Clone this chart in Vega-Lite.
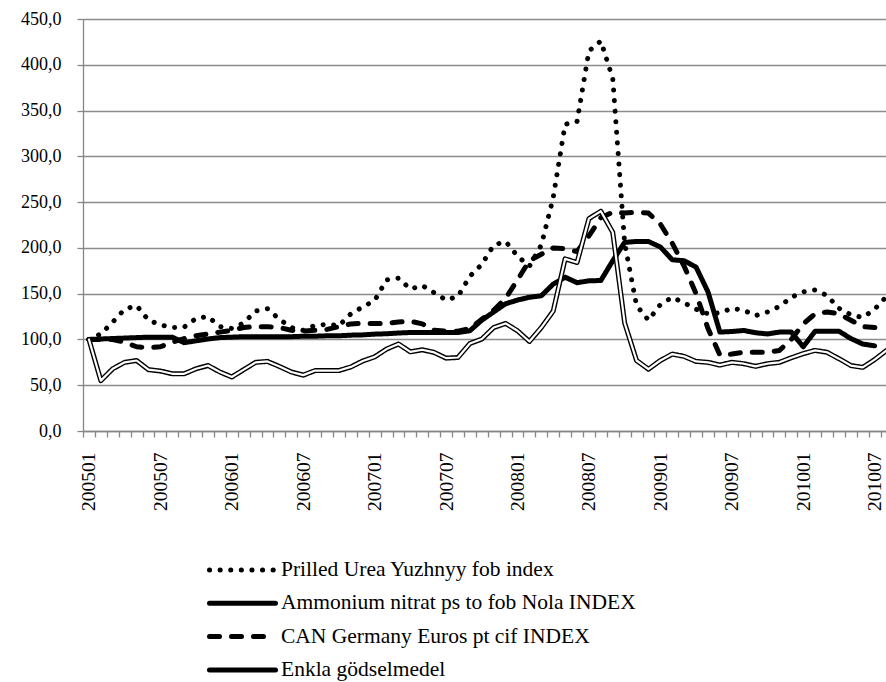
{
  "$schema": "https://vega.github.io/schema/vega-lite/v6.json",
  "autosize": "none",
  "width": 803,
  "height": 412,
  "padding": {"left": 83, "top": 19, "right": 0, "bottom": 251},
  "background": "white",
  "config": {"view": {"stroke": null}, "font": "Liberation Serif, Liberation Sans, sans-serif"},
  "data": {"values": [
    {"month": "200501", "Prilled Urea Yuzhnyy fob index": 100, "Ammonium nitrat ps to fob Nola INDEX": 100, "CAN Germany Euros pt cif INDEX": 100, "Enkla gödselmedel": 100},
    {"month": "200502", "Prilled Urea Yuzhnyy fob index": 106, "Ammonium nitrat ps to fob Nola INDEX": 100.5, "CAN Germany Euros pt cif INDEX": 100, "Enkla gödselmedel": 55},
    {"month": "200503", "Prilled Urea Yuzhnyy fob index": 119, "Ammonium nitrat ps to fob Nola INDEX": 101, "CAN Germany Euros pt cif INDEX": 100, "Enkla gödselmedel": 68},
    {"month": "200504", "Prilled Urea Yuzhnyy fob index": 133, "Ammonium nitrat ps to fob Nola INDEX": 101.5, "CAN Germany Euros pt cif INDEX": 97, "Enkla gödselmedel": 75},
    {"month": "200505", "Prilled Urea Yuzhnyy fob index": 137, "Ammonium nitrat ps to fob Nola INDEX": 102, "CAN Germany Euros pt cif INDEX": 92, "Enkla gödselmedel": 77},
    {"month": "200506", "Prilled Urea Yuzhnyy fob index": 121, "Ammonium nitrat ps to fob Nola INDEX": 102.5, "CAN Germany Euros pt cif INDEX": 91, "Enkla gödselmedel": 67},
    {"month": "200507", "Prilled Urea Yuzhnyy fob index": 116, "Ammonium nitrat ps to fob Nola INDEX": 102.5, "CAN Germany Euros pt cif INDEX": 92, "Enkla gödselmedel": 65.5},
    {"month": "200508", "Prilled Urea Yuzhnyy fob index": 113, "Ammonium nitrat ps to fob Nola INDEX": 102.5, "CAN Germany Euros pt cif INDEX": 97, "Enkla gödselmedel": 62.5},
    {"month": "200509", "Prilled Urea Yuzhnyy fob index": 113.5, "Ammonium nitrat ps to fob Nola INDEX": 96.5, "CAN Germany Euros pt cif INDEX": 101, "Enkla gödselmedel": 62.5},
    {"month": "200510", "Prilled Urea Yuzhnyy fob index": 123, "Ammonium nitrat ps to fob Nola INDEX": 98.5, "CAN Germany Euros pt cif INDEX": 104, "Enkla gödselmedel": 68},
    {"month": "200511", "Prilled Urea Yuzhnyy fob index": 125, "Ammonium nitrat ps to fob Nola INDEX": 100.5, "CAN Germany Euros pt cif INDEX": 106, "Enkla gödselmedel": 71.5},
    {"month": "200512", "Prilled Urea Yuzhnyy fob index": 114, "Ammonium nitrat ps to fob Nola INDEX": 102, "CAN Germany Euros pt cif INDEX": 108, "Enkla gödselmedel": 64.5},
    {"month": "200601", "Prilled Urea Yuzhnyy fob index": 112, "Ammonium nitrat ps to fob Nola INDEX": 102.5, "CAN Germany Euros pt cif INDEX": 110, "Enkla gödselmedel": 59},
    {"month": "200602", "Prilled Urea Yuzhnyy fob index": 118, "Ammonium nitrat ps to fob Nola INDEX": 103, "CAN Germany Euros pt cif INDEX": 113, "Enkla gödselmedel": 67},
    {"month": "200603", "Prilled Urea Yuzhnyy fob index": 131, "Ammonium nitrat ps to fob Nola INDEX": 103, "CAN Germany Euros pt cif INDEX": 114, "Enkla gödselmedel": 75},
    {"month": "200604", "Prilled Urea Yuzhnyy fob index": 133.5, "Ammonium nitrat ps to fob Nola INDEX": 103, "CAN Germany Euros pt cif INDEX": 114, "Enkla gödselmedel": 76},
    {"month": "200605", "Prilled Urea Yuzhnyy fob index": 122, "Ammonium nitrat ps to fob Nola INDEX": 103, "CAN Germany Euros pt cif INDEX": 113, "Enkla gödselmedel": 70.5},
    {"month": "200606", "Prilled Urea Yuzhnyy fob index": 113, "Ammonium nitrat ps to fob Nola INDEX": 103, "CAN Germany Euros pt cif INDEX": 110, "Enkla gödselmedel": 64.5},
    {"month": "200607", "Prilled Urea Yuzhnyy fob index": 110, "Ammonium nitrat ps to fob Nola INDEX": 103.5, "CAN Germany Euros pt cif INDEX": 109, "Enkla gödselmedel": 61},
    {"month": "200608", "Prilled Urea Yuzhnyy fob index": 115.5, "Ammonium nitrat ps to fob Nola INDEX": 103.5, "CAN Germany Euros pt cif INDEX": 110, "Enkla gödselmedel": 66},
    {"month": "200609", "Prilled Urea Yuzhnyy fob index": 116.5, "Ammonium nitrat ps to fob Nola INDEX": 104, "CAN Germany Euros pt cif INDEX": 111, "Enkla gödselmedel": 66},
    {"month": "200610", "Prilled Urea Yuzhnyy fob index": 115, "Ammonium nitrat ps to fob Nola INDEX": 104, "CAN Germany Euros pt cif INDEX": 114, "Enkla gödselmedel": 66},
    {"month": "200611", "Prilled Urea Yuzhnyy fob index": 128, "Ammonium nitrat ps to fob Nola INDEX": 104.7, "CAN Germany Euros pt cif INDEX": 117, "Enkla gödselmedel": 70},
    {"month": "200612", "Prilled Urea Yuzhnyy fob index": 135.5, "Ammonium nitrat ps to fob Nola INDEX": 105, "CAN Germany Euros pt cif INDEX": 117.5, "Enkla gödselmedel": 76.5},
    {"month": "200701", "Prilled Urea Yuzhnyy fob index": 142.5, "Ammonium nitrat ps to fob Nola INDEX": 105.8, "CAN Germany Euros pt cif INDEX": 117.5, "Enkla gödselmedel": 81},
    {"month": "200702", "Prilled Urea Yuzhnyy fob index": 165, "Ammonium nitrat ps to fob Nola INDEX": 106.2, "CAN Germany Euros pt cif INDEX": 117.5, "Enkla gödselmedel": 89.5},
    {"month": "200703", "Prilled Urea Yuzhnyy fob index": 167, "Ammonium nitrat ps to fob Nola INDEX": 107, "CAN Germany Euros pt cif INDEX": 119, "Enkla gödselmedel": 95},
    {"month": "200704", "Prilled Urea Yuzhnyy fob index": 155, "Ammonium nitrat ps to fob Nola INDEX": 107.6, "CAN Germany Euros pt cif INDEX": 120, "Enkla gödselmedel": 86.5},
    {"month": "200705", "Prilled Urea Yuzhnyy fob index": 159, "Ammonium nitrat ps to fob Nola INDEX": 107.6, "CAN Germany Euros pt cif INDEX": 117, "Enkla gödselmedel": 88.7},
    {"month": "200706", "Prilled Urea Yuzhnyy fob index": 151, "Ammonium nitrat ps to fob Nola INDEX": 107.6, "CAN Germany Euros pt cif INDEX": 110, "Enkla gödselmedel": 85.8},
    {"month": "200707", "Prilled Urea Yuzhnyy fob index": 143, "Ammonium nitrat ps to fob Nola INDEX": 107.6, "CAN Germany Euros pt cif INDEX": 109, "Enkla gödselmedel": 79.6},
    {"month": "200708", "Prilled Urea Yuzhnyy fob index": 147, "Ammonium nitrat ps to fob Nola INDEX": 107.6, "CAN Germany Euros pt cif INDEX": 109, "Enkla gödselmedel": 80.3},
    {"month": "200709", "Prilled Urea Yuzhnyy fob index": 169, "Ammonium nitrat ps to fob Nola INDEX": 109.5, "CAN Germany Euros pt cif INDEX": 112, "Enkla gödselmedel": 95.6},
    {"month": "200710", "Prilled Urea Yuzhnyy fob index": 182, "Ammonium nitrat ps to fob Nola INDEX": 121, "CAN Germany Euros pt cif INDEX": 122, "Enkla gödselmedel": 100.4},
    {"month": "200711", "Prilled Urea Yuzhnyy fob index": 203, "Ammonium nitrat ps to fob Nola INDEX": 130, "CAN Germany Euros pt cif INDEX": 132, "Enkla gödselmedel": 113},
    {"month": "200712", "Prilled Urea Yuzhnyy fob index": 207, "Ammonium nitrat ps to fob Nola INDEX": 139, "CAN Germany Euros pt cif INDEX": 145, "Enkla gödselmedel": 117.5},
    {"month": "200801", "Prilled Urea Yuzhnyy fob index": 191, "Ammonium nitrat ps to fob Nola INDEX": 143, "CAN Germany Euros pt cif INDEX": 165, "Enkla gödselmedel": 109.5},
    {"month": "200802", "Prilled Urea Yuzhnyy fob index": 180, "Ammonium nitrat ps to fob Nola INDEX": 146, "CAN Germany Euros pt cif INDEX": 186, "Enkla gödselmedel": 97.8},
    {"month": "200803", "Prilled Urea Yuzhnyy fob index": 203, "Ammonium nitrat ps to fob Nola INDEX": 147.7, "CAN Germany Euros pt cif INDEX": 193, "Enkla gödselmedel": 113},
    {"month": "200804", "Prilled Urea Yuzhnyy fob index": 255, "Ammonium nitrat ps to fob Nola INDEX": 160.5, "CAN Germany Euros pt cif INDEX": 200, "Enkla gödselmedel": 131},
    {"month": "200805", "Prilled Urea Yuzhnyy fob index": 335, "Ammonium nitrat ps to fob Nola INDEX": 168, "CAN Germany Euros pt cif INDEX": 199, "Enkla gödselmedel": 188},
    {"month": "200806", "Prilled Urea Yuzhnyy fob index": 338, "Ammonium nitrat ps to fob Nola INDEX": 162, "CAN Germany Euros pt cif INDEX": 196, "Enkla gödselmedel": 184},
    {"month": "200807", "Prilled Urea Yuzhnyy fob index": 415, "Ammonium nitrat ps to fob Nola INDEX": 164, "CAN Germany Euros pt cif INDEX": 213, "Enkla gödselmedel": 232},
    {"month": "200808", "Prilled Urea Yuzhnyy fob index": 426, "Ammonium nitrat ps to fob Nola INDEX": 164.4, "CAN Germany Euros pt cif INDEX": 233, "Enkla gödselmedel": 240},
    {"month": "200809", "Prilled Urea Yuzhnyy fob index": 385, "Ammonium nitrat ps to fob Nola INDEX": 186, "CAN Germany Euros pt cif INDEX": 239, "Enkla gödselmedel": 217},
    {"month": "200810", "Prilled Urea Yuzhnyy fob index": 205, "Ammonium nitrat ps to fob Nola INDEX": 206, "CAN Germany Euros pt cif INDEX": 238, "Enkla gödselmedel": 118},
    {"month": "200811", "Prilled Urea Yuzhnyy fob index": 137, "Ammonium nitrat ps to fob Nola INDEX": 207, "CAN Germany Euros pt cif INDEX": 239, "Enkla gödselmedel": 77},
    {"month": "200812", "Prilled Urea Yuzhnyy fob index": 121, "Ammonium nitrat ps to fob Nola INDEX": 207, "CAN Germany Euros pt cif INDEX": 238, "Enkla gödselmedel": 67.5},
    {"month": "200901", "Prilled Urea Yuzhnyy fob index": 138, "Ammonium nitrat ps to fob Nola INDEX": 201, "CAN Germany Euros pt cif INDEX": 226, "Enkla gödselmedel": 77},
    {"month": "200902", "Prilled Urea Yuzhnyy fob index": 146, "Ammonium nitrat ps to fob Nola INDEX": 187, "CAN Germany Euros pt cif INDEX": 205, "Enkla gödselmedel": 84},
    {"month": "200903", "Prilled Urea Yuzhnyy fob index": 140, "Ammonium nitrat ps to fob Nola INDEX": 186, "CAN Germany Euros pt cif INDEX": 180, "Enkla gödselmedel": 81.5},
    {"month": "200904", "Prilled Urea Yuzhnyy fob index": 133, "Ammonium nitrat ps to fob Nola INDEX": 179, "CAN Germany Euros pt cif INDEX": 150, "Enkla gödselmedel": 76},
    {"month": "200905", "Prilled Urea Yuzhnyy fob index": 128, "Ammonium nitrat ps to fob Nola INDEX": 152, "CAN Germany Euros pt cif INDEX": 112, "Enkla gödselmedel": 75},
    {"month": "200906", "Prilled Urea Yuzhnyy fob index": 129, "Ammonium nitrat ps to fob Nola INDEX": 108, "CAN Germany Euros pt cif INDEX": 83, "Enkla gödselmedel": 72},
    {"month": "200907", "Prilled Urea Yuzhnyy fob index": 134, "Ammonium nitrat ps to fob Nola INDEX": 108.7, "CAN Germany Euros pt cif INDEX": 84, "Enkla gödselmedel": 75},
    {"month": "200908", "Prilled Urea Yuzhnyy fob index": 132, "Ammonium nitrat ps to fob Nola INDEX": 109.8, "CAN Germany Euros pt cif INDEX": 86, "Enkla gödselmedel": 73.5},
    {"month": "200909", "Prilled Urea Yuzhnyy fob index": 126, "Ammonium nitrat ps to fob Nola INDEX": 107.3, "CAN Germany Euros pt cif INDEX": 86, "Enkla gödselmedel": 70.6},
    {"month": "200910", "Prilled Urea Yuzhnyy fob index": 130, "Ammonium nitrat ps to fob Nola INDEX": 106, "CAN Germany Euros pt cif INDEX": 86, "Enkla gödselmedel": 73.5},
    {"month": "200911", "Prilled Urea Yuzhnyy fob index": 136, "Ammonium nitrat ps to fob Nola INDEX": 108, "CAN Germany Euros pt cif INDEX": 88, "Enkla gödselmedel": 75},
    {"month": "200912", "Prilled Urea Yuzhnyy fob index": 146, "Ammonium nitrat ps to fob Nola INDEX": 108, "CAN Germany Euros pt cif INDEX": 100, "Enkla gödselmedel": 80},
    {"month": "201001", "Prilled Urea Yuzhnyy fob index": 152, "Ammonium nitrat ps to fob Nola INDEX": 92, "CAN Germany Euros pt cif INDEX": 117, "Enkla gödselmedel": 84.5},
    {"month": "201002", "Prilled Urea Yuzhnyy fob index": 154, "Ammonium nitrat ps to fob Nola INDEX": 109, "CAN Germany Euros pt cif INDEX": 128, "Enkla gödselmedel": 88},
    {"month": "201003", "Prilled Urea Yuzhnyy fob index": 148, "Ammonium nitrat ps to fob Nola INDEX": 109, "CAN Germany Euros pt cif INDEX": 130, "Enkla gödselmedel": 86},
    {"month": "201004", "Prilled Urea Yuzhnyy fob index": 134, "Ammonium nitrat ps to fob Nola INDEX": 109, "CAN Germany Euros pt cif INDEX": 128, "Enkla gödselmedel": 79},
    {"month": "201005", "Prilled Urea Yuzhnyy fob index": 127, "Ammonium nitrat ps to fob Nola INDEX": 101, "CAN Germany Euros pt cif INDEX": 121, "Enkla gödselmedel": 71.5},
    {"month": "201006", "Prilled Urea Yuzhnyy fob index": 124, "Ammonium nitrat ps to fob Nola INDEX": 95, "CAN Germany Euros pt cif INDEX": 114, "Enkla gödselmedel": 69.5},
    {"month": "201007", "Prilled Urea Yuzhnyy fob index": 133, "Ammonium nitrat ps to fob Nola INDEX": 93, "CAN Germany Euros pt cif INDEX": 113, "Enkla gödselmedel": 78},
    {"month": "201008", "Prilled Urea Yuzhnyy fob index": 147, "Ammonium nitrat ps to fob Nola INDEX": null, "CAN Germany Euros pt cif INDEX": 112.5, "Enkla gödselmedel": 88}
  ]},
  "transform": [
    {"fold": ["Prilled Urea Yuzhnyy fob index", "Ammonium nitrat ps to fob Nola INDEX", "CAN Germany Euros pt cif INDEX", "Enkla gödselmedel"], "as": ["series", "value"]}
  ],
  "encoding": {
    "x": {
      "field": "month", "type": "ordinal",
      "scale": {"type": "band", "paddingInner": 0, "paddingOuter": 0, "range": [0, 809.5]},
      "axis": {
        "title": null, "grid": false, "tickBand": "extent",
        "labelAngle": 270, "labelOverlap": false,
        "labelExpr": "(substring(datum.value, 4) == '01' || substring(datum.value, 4) == '07') ? datum.value : ''",
        "labelFontSize": 19.5, "labelColor": "black",
        "labelPadding": 15, "tickSize": 6, "tickColor": "#868686", "tickWidth": 1.3,
        "domainColor": "#868686", "domainWidth": 1.3
      }
    },
    "y": {
      "field": "value", "type": "quantitative",
      "scale": {"domain": [0, 450], "nice": false},
      "axis": {
        "title": null, "values": [0, 50, 100, 150, 200, 250, 300, 350, 400, 450],
        "labelExpr": "replace(format(datum.value, '.1f'), '.', ',')",
        "labelFontSize": 18, "labelColor": "black",
        "labelPadding": 16, "tickSize": 6, "tickColor": "#868686", "tickWidth": 1.3,
        "domainColor": "#868686", "domainWidth": 1.3,
        "grid": true, "gridColor": "#8c8c8c", "gridWidth": 1.3
      }
    }
  },
  "layer": [
    {
      "mark": {"type": "line", "color": "black", "strokeWidth": 5, "strokeCap": "round", "strokeJoin": "round", "clip": true},
      "encoding": {
        "strokeDash": {
          "field": "series", "type": "nominal",
          "scale": {
            "domain": ["Prilled Urea Yuzhnyy fob index", "Ammonium nitrat ps to fob Nola INDEX", "CAN Germany Euros pt cif INDEX", "Enkla gödselmedel"],
            "range": [[0.1, 10.5], [1, 0], [10, 12], [1, 0]]
          },
          "legend": {
            "title": null, "orient": "none", "legendX": 124, "legendY": 536,
            "direction": "vertical", "symbolType": "stroke", "symbolSize": 4356,
            "symbolStrokeWidth": 5, "symbolStrokeColor": "black",
            "labelFontSize": 21.5, "labelColor": "black",
            "labelOffset": 3, "labelLimit": 0, "clipHeight": 30, "rowPadding": 3.3,
            "encode": {"symbols": {"update": {"strokeCap": {"value": "round"}}}}
          }
        }
      }
    },
    {
      "transform": [{"filter": "datum.series === 'Enkla gödselmedel'"}],
      "mark": {"type": "line", "color": "white", "strokeWidth": 2.2, "strokeCap": "round", "strokeJoin": "round", "clip": true},
      "encoding": {}
    }
  ]
}
